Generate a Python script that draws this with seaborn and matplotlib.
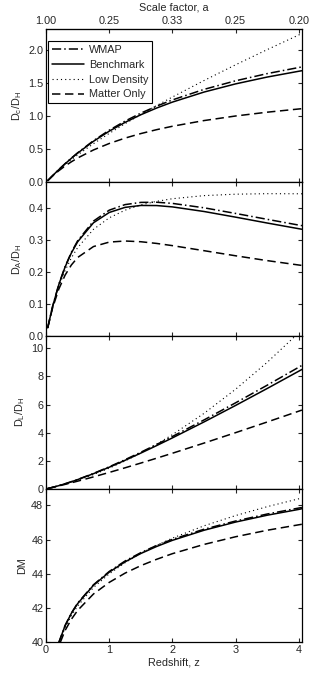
import numpy as np
import pandas as pd
import matplotlib
matplotlib.use('Agg')
import matplotlib.pyplot as plt
import seaborn as sns

# %%
# redshift grid
z = [0.025, 0.1, 0.2, 0.3, 0.4, 0.5, 0.75, 1.0, 1.25, 1.5, 1.75, 2.0, 2.5, 3.0, 3.5, 4.0, 4.05]

# comoving distance D_C/D_H
dc_wmap = [0.0249, 0.0979, 0.1916, 0.2807, 0.3654, 0.4457, 0.6278, 0.7858, 0.9231, 1.0431, 1.1487, 1.2423, 1.4009, 1.5305, 1.6387, 1.7307, 1.7392]
dc_bench = [0.0249, 0.0977, 0.1907, 0.2789, 0.3623, 0.4410, 0.6185, 0.7714, 0.9037, 1.0189, 1.1200, 1.2094, 1.3606, 1.4839, 1.5868, 1.6742, 1.6823]
dc_low = [0.0247, 0.0953, 0.1828, 0.2643, 0.3409, 0.4136, 0.5824, 0.7379, 0.8839, 1.0230, 1.1567, 1.2861, 1.5343, 1.7717, 2.0001, 2.2212, 2.2429]
dc_matter = [0.0245, 0.0931, 0.1743, 0.2459, 0.3097, 0.3670, 0.4881, 0.5858, 0.6667, 0.7351, 0.7940, 0.8453, 0.9310, 1.0000, 1.0572, 1.1056, 1.1100]

# angular diameter distance D_A/D_H
da_wmap = [0.0243, 0.0890, 0.1597, 0.2159, 0.2610, 0.2971, 0.3587, 0.3929, 0.4103, 0.4172, 0.4177, 0.4141, 0.4003, 0.3826, 0.3642, 0.3461, 0.3444]
da_bench = [0.0243, 0.0888, 0.1589, 0.2145, 0.2588, 0.2940, 0.3534, 0.3857, 0.4016, 0.4076, 0.4073, 0.4031, 0.3887, 0.3710, 0.3526, 0.3348, 0.3331]
da_low = [0.0241, 0.0866, 0.1523, 0.2033, 0.2435, 0.2757, 0.3328, 0.3690, 0.3928, 0.4092, 0.4206, 0.4287, 0.4384, 0.4429, 0.4445, 0.4442, 0.4441]
da_matter = [0.0239, 0.0846, 0.1452, 0.1891, 0.2212, 0.2447, 0.2789, 0.2929, 0.2963, 0.2940, 0.2887, 0.2818, 0.2660, 0.2500, 0.2349, 0.2211, 0.2198]

# luminosity distance D_L/D_H
dl_wmap = [0.0255, 0.1077, 0.2299, 0.3649, 0.5116, 0.6686, 1.0987, 1.5716, 2.0770, 2.6078, 3.1589, 3.7269, 4.9032, 6.1220, 7.3742, 8.6535, 8.7830]
dl_bench = [0.0255, 0.1075, 0.2288, 0.3626, 0.5072, 0.6615, 1.0824, 1.5428, 2.0333, 2.5473, 3.0800, 3.6282, 4.7621, 5.9356, 7.1406, 8.3710, 8.4956]
dl_low = [0.0253, 0.1048, 0.2194, 0.3436, 0.4773, 0.6204, 1.0192, 1.4758, 1.9888, 2.5575, 3.1809, 3.8583, 5.3701, 7.0868, 9.0005, 11.106, 11.327]
dl_matter = [0.0252, 0.1024, 0.2091, 0.3196, 0.4336, 0.5505, 0.8543, 1.1716, 1.5000, 1.8377, 2.1834, 2.5359, 3.2583, 4.0000, 4.7574, 5.5279, 5.6056]

# distance modulus DM
dm_wmap = [35.19, 38.32, 39.97, 40.97, 41.70, 42.29, 43.36, 44.14, 44.75, 45.24, 45.66, 46.02, 46.61, 47.09, 47.50, 47.85, 47.88]
dm_bench = [35.19, 38.32, 39.96, 40.96, 41.69, 42.26, 43.33, 44.10, 44.70, 45.19, 45.60, 45.96, 46.55, 47.03, 47.43, 47.77, 47.81]
dm_low = [35.17, 38.26, 39.87, 40.84, 41.55, 42.12, 43.20, 44.00, 44.65, 45.20, 45.67, 46.09, 46.81, 47.41, 47.93, 48.39, 48.43]
dm_matter = [35.16, 38.21, 39.76, 40.68, 41.34, 41.86, 42.82, 43.50, 44.04, 44.48, 44.85, 45.18, 45.72, 46.17, 46.55, 46.87, 46.90]

models = ['WMAP', 'Benchmark', 'Low Density', 'Matter Only']
top_ticks = [0, 1, 2, 3, 4]
top_labels = ['1.00', '0.25', '0.33', '0.25', '0.20']

# %%
sns.set_style('ticks')
plt.rcParams['font.family'] = ['Liberation Sans', 'DejaVu Sans']
plt.rcParams['font.size'] = 7.8
plt.rcParams['mathtext.default'] = 'regular'

line_styles = {
    'WMAP': (0, (6, 2, 1, 2)),
    'Benchmark': '-',
    'Low Density': (0, (1, 2.8)),
    'Matter Only': (0, (5.5, 3)),
}
line_widths = {'WMAP': 1.1, 'Benchmark': 1.1, 'Low Density': 0.8, 'Matter Only': 1.1}

panels = [
    (dict(zip(models, [dc_wmap, dc_bench, dc_low, dc_matter])), r'$D_c/D_H$', (0, 2.31), np.arange(0, 2.01, 0.5), '%.1f'),
    (dict(zip(models, [da_wmap, da_bench, da_low, da_matter])), r'$D_A/D_H$', (0, 0.48), np.arange(0, 0.41, 0.1), '%.1f'),
    (dict(zip(models, [dl_wmap, dl_bench, dl_low, dl_matter])), r'$D_L/D_H$', (0, 10.9), np.arange(0, 11, 2), '%d'),
    (dict(zip(models, [dm_wmap, dm_bench, dm_low, dm_matter])), 'DM', (40, 48.97), np.arange(40, 49, 2), '%d'),
]

fig, axes = plt.subplots(4, 1, figsize=(3.34, 6.92), dpi=100, sharex=True)
fig.subplots_adjust(left=0.138, right=0.904, top=0.958, bottom=0.072, hspace=0)

for i, (ax, (series, ylab, ylim, yticks, fmt)) in enumerate(zip(axes, panels)):
    for m in models:
        sns.lineplot(x=z, y=series[m], ax=ax, color='k', linestyle=line_styles[m],
                     linewidth=line_widths[m], label=m if i == 0 else None, legend=False)
    ax.set_xlim(0, 4.05)
    ax.set_ylim(*ylim)
    ax.set_yticks(yticks)
    ax.yaxis.set_major_formatter(matplotlib.ticker.FormatStrFormatter(fmt))
    ax.set_xticks([0, 1, 2, 3, 4])
    ax.set_ylabel(ylab, labelpad=3)
    ax.tick_params(direction='in', length=3, width=0.8, top=True, right=True, labelsize=7.8, pad=2)
    for s in ax.spines.values():
        s.set_linewidth(0.9)
        s.set_color('k')

axes[-1].set_xlabel('Redshift, z', labelpad=2)

# scale factor along the top
sec = axes[0].secondary_xaxis('top')
sec.set_xticks(top_ticks)
sec.set_xticklabels(top_labels)
sec.set_xlabel('Scale factor, a', labelpad=4)
sec.tick_params(direction='in', length=3, width=0.8, labelsize=7.8, pad=2)
axes[0].tick_params(top=False)

leg = axes[0].legend(loc='upper left', bbox_to_anchor=(0.008, 0.922), borderaxespad=0,
                     fancybox=False, edgecolor='k', framealpha=1, handlelength=3.0,
                     handletextpad=0.4, labelspacing=0.45, borderpad=0.35, fontsize=7.8)
leg.get_frame().set_linewidth(0.8)

plt.savefig('out.png', dpi=100)
